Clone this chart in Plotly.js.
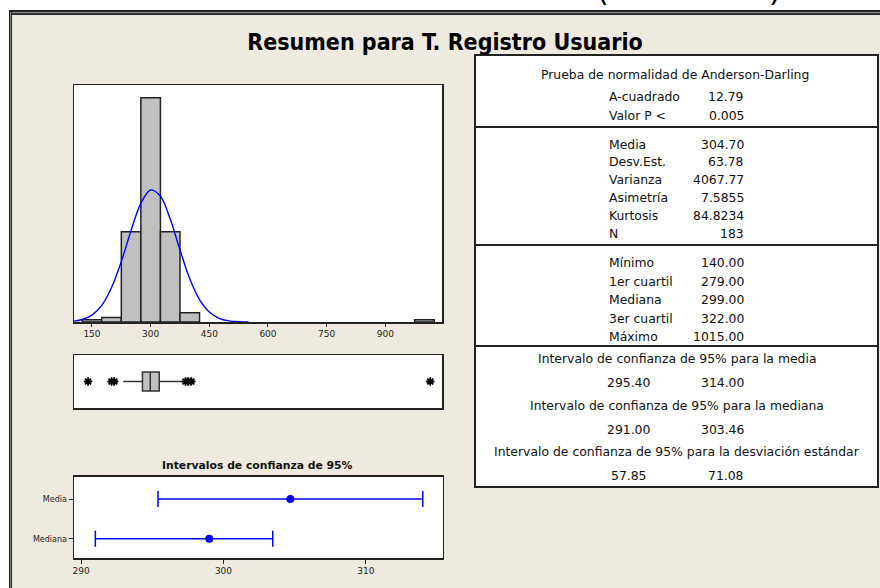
<!DOCTYPE html>
<html>
<head>
<meta charset="utf-8">
<script src="https://cdn.plot.ly/plotly-3.0.1.min.js"></script>
<style>
  body { margin: 0; background: #fff; }
  #chart { width: 880px; height: 588px; }
</style>
</head>
<body>
<div id="chart"></div>
<script>
// histogram: centres of the 50-wide bins and their counts
const binCenters = [150, 200, 250, 300, 350, 400, 1000];
const binCounts = [1, 2, 39, 97, 39, 4, 1];

// fitted normal curve (counts per bin)
const curveX = [100, 125, 150, 175, 200, 225, 250, 275, 300, 325, 350, 375, 400, 425, 450, 475, 500, 525, 550];
const curveY = [0.3, 1.1, 3, 7.2, 14.9, 26.2, 39.6, 51.3, 57.1, 54.4, 44.5, 31.2, 18.7, 9.7, 4.3, 1.6, 0.5, 0.15, 0];

// boxplot
const boxQ1 = 279;
const boxMedian = 299;
const boxQ3 = 322;
const whiskerLow = 230;
const whiskerHigh = 378;
const outliers = [140, 200, 207, 389, 396, 404, 1015];

// 95% confidence intervals
const ciLabels = ["Media", "Mediana"];
const ciCenter = [304.7, 299.0];
const ciLow = [295.4, 291.0];
const ciHigh = [314.0, 303.46];

// summary table
const adTitle = "Prueba de normalidad de Anderson-Darling";
const adLabels = ["A-cuadrado", "Valor P <"];
const adValues = ["12.79", "0.005"];
const momentLabels = ["Media", "Desv.Est.", "Varianza", "Asimetría", "Kurtosis", "N"];
const momentValues = ["304.70", "63.78", "4067.77", "7.5855", "84.8234", "183"];
const quantLabels = ["Mínimo", "1er cuartil", "Mediana", "3er cuartil", "Máximo"];
const quantValues = ["140.00", "279.00", "299.00", "322.00", "1015.00"];
const intervalTitles = [
  "Intervalo de confianza de 95% para la media",
  "Intervalo de confianza de 95% para la mediana",
  "Intervalo de confianza de 95% para la desviación estándar",
];
const intervalLow = ["295.40", "291.00", "57.85"];
const intervalHigh = ["314.00", "303.46", "71.08"];

const W = 880, H = 588;
const px = (x) => x / W;
const py = (y) => 1 - y / H;
const BG = "#EEEADF";
const FONT = "DejaVu Sans";

const plotData = [
  {
    type: "bar",
    x: binCenters,
    y: binCounts,
    width: 50,
    marker: { color: "#C0C0C0", line: { color: "#222", width: 1.5 } },
    hoverinfo: "skip",
  },
  {
    type: "scatter",
    mode: "lines",
    x: curveX,
    y: curveY,
    line: { color: "#0000FF", width: 1.4, shape: "spline" },
    hoverinfo: "skip",
  },
  {
    type: "box",
    orientation: "h",
    y: [0],
    q1: [boxQ1],
    median: [boxMedian],
    q3: [boxQ3],
    lowerfence: [whiskerLow],
    upperfence: [whiskerHigh],
    width: 0.72,
    whiskerwidth: 0,
    fillcolor: "#C0C0C0",
    line: { color: "#333", width: 1.5 },
    boxpoints: false,
    xaxis: "x2",
    yaxis: "y2",
    hoverinfo: "skip",
  },
  {
    type: "scatter",
    mode: "markers",
    x: outliers,
    y: outliers.map(() => 0),
    marker: {
      symbol: "asterisk-open",
      size: 7,
      color: "#000",
      line: { color: "#000", width: 1.8 },
    },
    xaxis: "x2",
    yaxis: "y2",
    hoverinfo: "skip",
  },
  {
    type: "scatter",
    mode: "markers",
    x: ciCenter,
    y: ciLabels,
    marker: { color: "#0000FF", size: 8 },
    error_x: {
      type: "data",
      symmetric: false,
      array: ciHigh.map((h, i) => h - ciCenter[i]),
      arrayminus: ciLow.map((l, i) => ciCenter[i] - l),
      color: "#0000FF",
      thickness: 1.5,
      width: 8,
    },
    xaxis: "x3",
    yaxis: "y3",
    hoverinfo: "skip",
  },
];

const frame = {
  showline: true,
  mirror: true,
  linecolor: "#222",
  linewidth: 1.5,
  showgrid: false,
  zeroline: false,
  fixedrange: true,
};

// text of the summary table
const annotations = [];
const ann = (text, x, y, xanchor, extra) =>
  annotations.push({
    text,
    x: px(x),
    y: py(y),
    xref: "paper",
    yref: "paper",
    xanchor,
    yanchor: "middle",
    showarrow: false,
    font: { family: FONT, size: 12.4, color: "#111" },
    ...extra,
  });

ann(adTitle, 675, 74, "center");
adLabels.forEach((l, i) => {
  ann(l, 607, 96.7 + i * 19, "left");
  ann(adValues[i], 746, 96.7 + i * 19, "right");
});
momentLabels.forEach((l, i) => {
  ann(l, 607, 144 + i * 17.9, "left");
  ann(momentValues[i], 746, 144 + i * 17.9, "right");
});
quantLabels.forEach((l, i) => {
  ann(l, 607, 262.7 + i * 18.5, "left");
  ann(quantValues[i], 746, 262.7 + i * 18.5, "right");
});
intervalTitles.forEach((t, i) => {
  const y0 = 358.3 + i * 46.7;
  ann(t, 677, y0, "center");
  ann(intervalLow[i], 628, y0 + 24, "center");
  ann(intervalHigh[i], 746, y0 + 24, "right");
});

ann("<b>Intervalos de confianza de 95%</b>", 257, 465, "center", {
  font: { family: FONT, size: 10.8, color: "#111" },
});

// bottoms of the cut-off heading above the panel
ann("(", 603, -9, "center", { font: { family: FONT, size: 30, color: "#000" } });
ann(")", 775, -9, "center", { font: { family: FONT, size: 30, color: "#000" } });

const rect = (x0, y0, x1, y1, fill, line) => ({
  type: "rect",
  xref: "paper",
  yref: "paper",
  x0: px(x0),
  x1: px(x1),
  y0: py(y1),
  y1: py(y0),
  fillcolor: fill,
  line: line || { width: 0 },
  layer: "below",
});
const hline = (x0, x1, y, color, width) => ({
  type: "line",
  xref: "paper",
  yref: "paper",
  x0: px(x0),
  x1: px(x1),
  y0: py(y),
  y1: py(y),
  line: { color, width },
});

const shapes = [
  rect(0, 0, 880, 10, "#fff"),
  rect(0, 0, 9, 588, "#fff"),
  rect(9, 10, 880, 15, "#222"),
  rect(9, 10, 12, 588, "#222"),
  hline(12, 880, 12.6, "#8a8a8a", 1.4),
  {
    type: "line", xref: "paper", yref: "paper",
    x0: px(10.6), x1: px(10.6), y0: py(588), y1: py(12),
    line: { color: "#8a8a8a", width: 1 },
  },
  rect(475, 55, 878, 487, "#fff", { color: "#222", width: 2 }),
  hline(475, 878, 127, "#222", 2),
  hline(475, 878, 245, "#222", 2),
  hline(475, 878, 346, "#222", 2),
];

const layout = {
  width: W,
  height: H,
  margin: { l: 0, r: 0, t: 0, b: 0, pad: 0 },
  paper_bgcolor: BG,
  plot_bgcolor: "#fff",
  showlegend: false,
  title: {
    text: "<b>Resumen para T. Registro Usuario</b>",
    x: px(445),
    y: py(42),
    xanchor: "center",
    yanchor: "middle",
    font: { family: "DejaVu Sans Condensed, Liberation Sans, sans-serif", size: 23, color: "#000" },
  },
  xaxis: {
    ...frame,
    domain: [px(74), px(442)],
    range: [104, 1045],
    tickvals: [150, 300, 450, 600, 750, 900],
    ticks: "outside",
    ticklen: 3,
    tickcolor: "#222",
    tickfont: { family: FONT, size: 9, color: "#222" },
    anchor: "y",
  },
  yaxis: {
    ...frame,
    domain: [py(322), py(85)],
    range: [0, 102.5],
    showticklabels: false,
    ticks: "",
    anchor: "x",
  },
  xaxis2: {
    ...frame,
    domain: [px(74), px(442)],
    range: [104, 1045],
    showticklabels: false,
    ticks: "",
    anchor: "y2",
  },
  yaxis2: {
    ...frame,
    domain: [py(408), py(355)],
    range: [-1, 1],
    showticklabels: false,
    ticks: "",
    anchor: "x2",
  },
  xaxis3: {
    ...frame,
    domain: [px(74), px(442.7)],
    range: [289.5, 315.4],
    tickvals: [290, 300, 310],
    ticks: "outside",
    ticklen: 4,
    tickcolor: "#222",
    tickfont: { family: FONT, size: 9, color: "#222" },
    anchor: "y3",
  },
  yaxis3: {
    ...frame,
    domain: [py(558), py(476.7)],
    type: "category",
    categoryarray: ["Mediana", "Media"],
    range: [-0.48, 1.56],
    ticks: "outside",
    ticklen: 4,
    tickcolor: "#222",
    tickfont: { family: FONT, size: 8, color: "#222" },
    anchor: "x3",
  },
  shapes,
  annotations,
};

Plotly.newPlot(document.getElementById("chart"), plotData, layout, {
  displayModeBar: false,
  staticPlot: true,
});
</script>
</body>
</html>
